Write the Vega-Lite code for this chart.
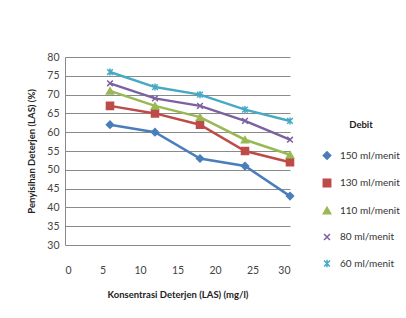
{
  "$schema": "https://vega.github.io/schema/vega-lite/v6.json",
  "autosize": {"type": "none"},
  "padding": {"left": 65, "top": 57, "right": 116, "bottom": 73},
  "width": 225,
  "height": 188,
  "background": "white",
  "config": {
    "font": "Lato",
    "view": {"stroke": null},
    "axis": {"labelFont": "Lato", "titleFont": "Lato"},
    "legend": {
      "orient": "none", "legendX": 257, "legendY": 63,
      "titleFontSize": 9.5, "titleFontWeight": "bold", "titleColor": "#222",
      "titlePadding": 21, "titleAnchor": "middle",
      "labelFontSize": 10, "labelColor": "#333", "labelFont": "Lato", "titleFont": "Lato",
      "labelOffset": 8,
      "rowPadding": 13.5, "symbolSize": 55, "symbolStrokeWidth": 1.5
    }
  },
  "data": {
    "values": [
      {"x": 6, "y": 62, "s": "150 ml/menit"},
      {"x": 12, "y": 60, "s": "150 ml/menit"},
      {"x": 18, "y": 53, "s": "150 ml/menit"},
      {"x": 24, "y": 51, "s": "150 ml/menit"},
      {"x": 30, "y": 43, "s": "150 ml/menit"},
      {"x": 6, "y": 67, "s": "130 ml/menit"},
      {"x": 12, "y": 65, "s": "130 ml/menit"},
      {"x": 18, "y": 62, "s": "130 ml/menit"},
      {"x": 24, "y": 55, "s": "130 ml/menit"},
      {"x": 30, "y": 52, "s": "130 ml/menit"},
      {"x": 6, "y": 71, "s": "110 ml/menit"},
      {"x": 12, "y": 67, "s": "110 ml/menit"},
      {"x": 18, "y": 64, "s": "110 ml/menit"},
      {"x": 24, "y": 58, "s": "110 ml/menit"},
      {"x": 30, "y": 54, "s": "110 ml/menit"},
      {"x": 6, "y": 73, "s": "80 ml/menit"},
      {"x": 12, "y": 69, "s": "80 ml/menit"},
      {"x": 18, "y": 67, "s": "80 ml/menit"},
      {"x": 24, "y": 63, "s": "80 ml/menit"},
      {"x": 30, "y": 58, "s": "80 ml/menit"},
      {"x": 6, "y": 76, "s": "60 ml/menit"},
      {"x": 12, "y": 72, "s": "60 ml/menit"},
      {"x": 18, "y": 70, "s": "60 ml/menit"},
      {"x": 24, "y": 66, "s": "60 ml/menit"},
      {"x": 30, "y": 63, "s": "60 ml/menit"}
    ]
  },
  "encoding": {
    "x": {
      "field": "x", "type": "quantitative",
      "scale": {"domain": [0, 30], "nice": false},
      "axis": {
        "values": [0, 5, 10, 15, 20, 25, 30],
        "grid": false, "domain": false, "ticks": false,
        "labelPadding": 20, "labelFontSize": 10.5, "labelColor": "#444",
        "title": "Konsentrasi Deterjen (LAS) (mg/l)",
        "titleFontSize": 9.5, "titleFontWeight": "bold", "titleColor": "#222",
        "titlePadding": 14
      }
    },
    "y": {
      "field": "y", "type": "quantitative",
      "scale": {"domain": [30, 80], "nice": false, "zero": false},
      "axis": {
        "values": [30, 35, 40, 45, 50, 55, 60, 65, 70, 75, 80],
        "grid": true, "gridColor": "#8a8a8a", "gridWidth": 1,
        "domain": true, "domainColor": "#8a8a8a",
        "ticks": false, "labelPadding": 6,
        "labelFontSize": 10.5, "labelColor": "#444",
        "title": "Penyisihan Deterjen (LAS) (%)",
        "titleFontSize": 9.5, "titleFontWeight": "bold", "titleColor": "#222",
        "titlePadding": 10
      }
    },
    "stroke": {
      "field": "s", "type": "nominal",
      "title": "Debit",
      "scale": {
        "domain": ["150 ml/menit", "130 ml/menit", "110 ml/menit", "80 ml/menit", "60 ml/menit"],
        "range": ["#4A7EBB", "#BE4B48", "#98B954", "#7D60A0", "#46AAC5"]
      }
    }
  },
  "layer": [
    {
      "mark": {"type": "line", "strokeWidth": 2.5}
    },
    {
      "mark": {"type": "point", "filled": true, "size": 50, "strokeWidth": 1.5, "opacity": 1},
      "encoding": {
        "fill": {
          "field": "s", "type": "nominal",
          "title": "Debit",
          "scale": {
            "domain": ["150 ml/menit", "130 ml/menit", "110 ml/menit", "80 ml/menit", "60 ml/menit"],
            "range": ["#4A7EBB", "#BE4B48", "#98B954", "#7D60A0", "#46AAC5"]
          }
        },
        "shape": {
          "field": "s", "type": "nominal",
          "title": "Debit",
          "scale": {
            "domain": ["150 ml/menit", "130 ml/menit", "110 ml/menit", "80 ml/menit", "60 ml/menit"],
            "range": ["diamond", "square", "triangle-up", "M-0.8,-0.8L0.8,0.8M-0.8,0.8L0.8,-0.8", "M-0.8,-0.8L0.8,0.8M-0.8,0.8L0.8,-0.8M0,-1L0,1"]
          }
        }
      }
    }
  ]
}
